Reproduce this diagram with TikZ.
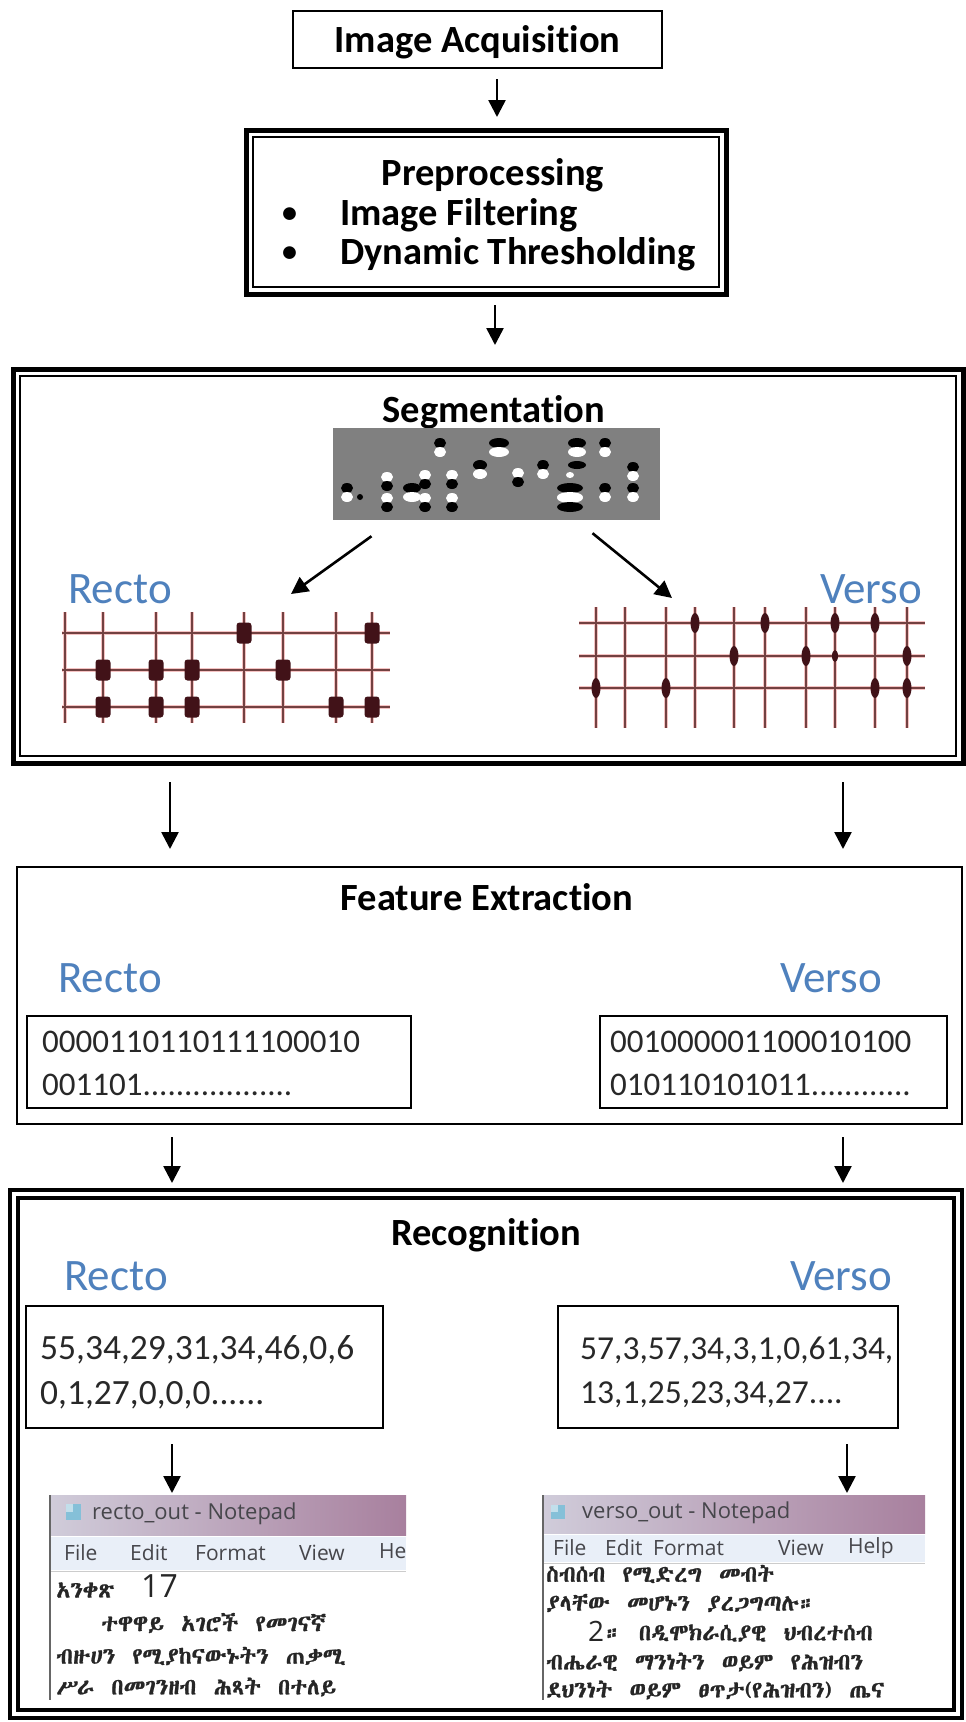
\documentclass[tikz,border=0pt]{standalone}
\usepackage{fontspec}
\setmainfont{Carlito}[Ligatures=NoCommon]
\newfontfamily\uifont{Open Sans}
\IfFontExistsTF{Abyssinica SIL}
  {\newfontfamily\ethfont{Abyssinica SIL}[FakeBold=1]}
  {\IfFontExistsTF{FreeSerif}
     {\newfontfamily\ethfont{FreeSerif}[FakeBold=1]}
     {\newfontfamily\ethfont{DejaVu Sans}}}
\usetikzlibrary{arrows.meta,calc}

\definecolor{rvblue}{HTML}{4F81BD}
\definecolor{seggray}{RGB}{128,128,128}
\definecolor{gridline}{RGB}{115,65,65}
\definecolor{gridhalo}{RGB}{245,195,195}
\definecolor{cellmark}{RGB}{65,18,24}
\definecolor{titleA}{RGB}{208,204,218}
\definecolor{titleB}{RGB}{168,128,158}
\definecolor{menubg}{RGB}{233,239,248}
\definecolor{uitext}{RGB}{70,70,75}
\definecolor{codetext}{RGB}{40,40,40}

\newcommand\wsp{\hspace{0.75em}}
% embossed braille dot: dark rim above, light cap below
\newcommand\segA[3]{%
  \fill[black] (#1,#2) ellipse [x radius=#3, y radius=5];
  \fill[white] (#1,#2+9) ellipse [x radius=#3, y radius=5];}
% sunken braille dot: light cap above, dark rim below
\newcommand\segB[3]{%
  \fill[white] (#1,#2) ellipse [x radius=#3, y radius=5];
  \fill[black] (#1,#2+9) ellipse [x radius=#3, y radius=5];}

\begin{document}
\begin{tikzpicture}[x=1pt,y=-1pt,
  box/.style={draw, rectangle, inner sep=0pt, outer sep=0pt},
  title/.style={font=\fontsize{38.5}{40}\selectfont\bfseries, inner sep=0pt},
  item/.style={font=\fontsize{38.5}{40}\selectfont\bfseries, inner sep=0pt, anchor=west},
  side/.style={font=\fontsize{45}{48}\selectfont, text=rvblue, inner sep=0pt},
  code/.style={font=\fontsize{33}{36}\selectfont, text=codetext, inner sep=0pt, anchor=west},
  nums/.style={font=\fontsize{35.5}{36}\selectfont, text=codetext, inner sep=0pt, anchor=west},
  flow/.style={-{Triangle[length=17pt,width=17pt]}, line width=2.6pt},
  menu/.style={font=\uifont\fontsize{21}{22}\selectfont, text=uitext, inner sep=0pt, anchor=west},
  wintitle/.style={font=\uifont\fontsize{22}{24}\selectfont, text=uitext, inner sep=0pt, anchor=west},
  eth/.style={font=\ethfont\fontsize{23}{24}\selectfont, text=black!85, inner sep=0pt, anchor=west},
  big/.style={font=\uifont\fontsize{32}{32}\selectfont, text=black!85, inner sep=0pt, anchor=west},
  halo/.style={draw=gridhalo, line width=4.5pt},
  rule/.style={draw=gridline, line width=1.8pt}]

\useasboundingbox (0,0) rectangle (966,1722);
\fill[white] (0,0) rectangle (966,1722);

% ---------- Image acquisition ----------
\node[box, line width=2pt, minimum width=369pt, minimum height=57pt] (acq) at (477.5,39.5) {};
\node[title] at (477.5,42) {Image Acquisition};

% ---------- Preprocessing ----------
\node[box, line width=5pt, minimum width=480pt, minimum height=164pt] (pre) at (486,212) {};
\node[box, line width=2.5pt, minimum width=466pt, minimum height=150pt] at (pre) {};
\node[title] at (493,175) {Preprocessing};
\node[item, font=\fontsize{30}{30}\selectfont\bfseries] at (282,215) {\textbullet};
\node[item, font=\fontsize{30}{30}\selectfont\bfseries] at (282,254) {\textbullet};
\node[item] at (340,215) {Image Filtering};
\node[item] at (340,254) {Dynamic Thresholding};

\draw[flow] ($(acq.south)+(19.5,11)$) -- ($(pre.north)+(11,-13)$);

% ---------- Segmentation ----------
\node[box, line width=5pt, minimum width=950pt, minimum height=394pt] (seg) at (488,566) {};
\node[box, line width=2.5pt, minimum width=936pt, minimum height=380pt] at (seg) {};
\node[title] at (494,412) {Segmentation};

\draw[flow] ($(pre.south)+(9,11)$) -- ($(seg.north)+(7,-24)$);

\node[fill=seggray, inner sep=0pt, minimum width=327pt, minimum height=92pt] (segimg) at (496.5,474) {};
\begin{scope}
  \clip (333,428) rectangle (660,520);
  \segA{347}{488}{6} \segA{412}{488}{9} \segA{440}{443}{6} \segA{480}{465}{7}
  \segA{499}{443}{10} \segA{543}{465}{6} \segA{577}{443}{9} \segA{570}{488}{13}
  \segA{605}{443}{6} \segA{605}{488}{6} \segA{633}{467}{6} \segA{633}{488}{6}
  \segB{387}{477}{6} \segB{387}{498}{6} \segB{425}{475}{6} \segB{425}{498}{6}
  \segB{452}{475}{6} \segB{452}{498}{6} \segB{518}{473}{6} \segB{570}{498}{13}
  \fill[black] (360,497) circle [radius=3];
  \fill[black] (577,465) ellipse [x radius=9, y radius=4];
  \fill[white] (570,475) ellipse [x radius=4, y radius=3];
\end{scope}

\coordinate (dL) at (291,594);
\coordinate (dR) at (672,598);
\draw[flow] ($(segimg.south)+(-125,16)$) -- (dL);
\draw[flow] ($(segimg.south)+(96,13)$) -- (dR);

\node[side] at (120,589) {Recto};
\node[side] at (871,589) {Verso};

% recto cell grid
\foreach \y in {633,670,707} \draw[halo] (62,\y) -- (390,\y);
\foreach \x in {65,103,156,192,244,283,336,372} \draw[halo] (\x,612) -- (\x,723);
\foreach \y in {633,670,707} \draw[rule] (62,\y) -- (390,\y);
\foreach \x in {65,103,156,192,244,283,336,372} \draw[rule] (\x,612) -- (\x,723);
\foreach \x/\y in {244/633,372/633,103/670,156/670,192/670,283/670,
                   103/707,156/707,192/707,336/707,372/707}
  \fill[cellmark, rounded corners=3pt] (\x-7.5,\y-10.5) rectangle (\x+7.5,\y+10.5);

% verso cell grid
\foreach \y in {623,656,688} \draw[halo] (579,\y) -- (925,\y);
\foreach \x in {596,625,666,695,734,765,806,835,875,907} \draw[halo] (\x,607) -- (\x,728);
\foreach \y in {623,656,688} \draw[rule] (579,\y) -- (925,\y);
\foreach \x in {596,625,666,695,734,765,806,835,875,907} \draw[rule] (\x,607) -- (\x,728);
\foreach \x/\y in {695/623,765/623,835/623,875/623,734/656,806/656,907/656,
                   596/688,666/688,875/688,907/688}
  \fill[cellmark] (\x,\y) ellipse [x radius=4.5, y radius=10];
\fill[cellmark] (835,656) ellipse [x radius=3, y radius=6];

% ---------- Feature extraction ----------
\node[box, line width=2.5pt, minimum width=945pt, minimum height=257pt] (feat) at (489.5,995.5) {};
\node[title] at (487,897) {Feature Extraction};
\node[side] at (110,978) {Recto};
\node[side] at (831,978) {Verso};
\node[box, line width=2pt, minimum width=384pt, minimum height=92pt] (featL) at (219,1062) {};
\node[box, line width=2pt, minimum width=347pt, minimum height=92pt] (featR) at (773.5,1062) {};
\node[code] at (42,1042) {0000110110111100010};
\node[code] at (42,1085) {001101..................};
\node[code] at (610,1042) {001000001100010100};
\node[code] at (610,1085) {010110101011............};

\draw[flow] ($(seg.south)+(-318,19)$) -- ($(feat.north)+(-319.5,-18)$);
\draw[flow] ($(seg.south)+(355,19)$) -- ($(feat.north)+(353.5,-18)$);

% ---------- Recognition ----------
\node[box, line width=3.5pt, minimum width=952pt, minimum height=528pt] (rec) at (486,1454) {};
\node[box, line width=4pt, minimum width=936pt, minimum height=512pt] at (rec) {};
\node[title] at (486,1235) {Recognition};
\node[side] at (116,1276) {Recto};
\node[side] at (841,1276) {Verso};
\node[box, line width=2pt, minimum width=357pt, minimum height=122pt] (recL) at (204.5,1367) {};
\node[box, line width=2pt, minimum width=340pt, minimum height=122pt] (recR) at (728,1367) {};
\node[nums] at (40,1350) {55,34,29,31,34,46,0,6};
\node[nums] at (40,1395) {0,1,27,0,0,0......};
\node[nums, font=\fontsize{33.5}{36}\selectfont] at (580,1350) {57,3,57,34,3,1,0,61,34,};
\node[nums, font=\fontsize{33.5}{36}\selectfont] at (580,1395) {13,1,25,23,34,27....};

\draw[flow] ($(feat.south)+(-317.5,13)$) -- ($(rec.north)+(-314,-7)$);
\draw[flow] ($(feat.south)+(353.5,13)$) -- ($(rec.north)+(357,-7)$);

% ---------- Notepad output windows ----------
\node[inner sep=0pt, outer sep=0pt, minimum width=356pt, minimum height=205pt] (npL) at (228,1597.5) {};
\node[inner sep=0pt, outer sep=0pt, minimum width=382pt, minimum height=205pt] (npR) at (734,1597.5) {};

\draw[flow] ($(recL.south)+(-32.5,16)$) -- ($(npL.north)+(-56,-2)$);
\draw[flow] ($(recR.south)+(119,16)$) -- ($(npR.north)+(113,-2)$);

% left window
\begin{scope}
  \clip (npL.north west) rectangle (npL.south east);
  \shade[left color=titleA, right color=titleB] (50,1495) rectangle (406,1535);
  \fill[menubg] (50,1537) rectangle (406,1570);
  \draw[black!20, line width=1pt] (50,1571) -- (406,1571);
  \fill[cyan!45!teal!55] (66,1504) rectangle (81,1520);
  \fill[white, opacity=0.5] (66,1504) rectangle (73,1512);
  \node[wintitle] at (92,1514) {recto\_out - Notepad};
  \node[menu] at (64,1553) {File};
  \node[menu] at (130,1553) {Edit};
  \node[menu] at (195,1553) {Format};
  \node[menu] at (299,1553) {View};
  \node[menu] at (379,1553) {Help};
  \node[eth] at (56,1590) {አንቀጽ};
  \node[big] at (141,1586) {17};
  \node[eth] at (101,1623) {ተዋዋይ\wsp አገሮች\wsp የመገናኛ};
  \node[eth] at (56,1656) {ብዙሀን\wsp የሚያከናውኑትን\wsp ጠቃሚ};
  \node[eth] at (56,1687) {ሥራ\wsp በመገንዘብ\wsp ሕጻት\wsp በተለይ};
\end{scope}
\draw[black!60, line width=1.5pt] (npL.north west) -- (npL.south west);

% right window
\begin{scope}
  \clip (npR.north west) rectangle (npR.south east);
  \shade[left color=titleA, right color=titleB] (543,1495) rectangle (925,1533);
  \fill[menubg] (543,1535) rectangle (925,1562);
  \draw[black!20, line width=1pt] (543,1563) -- (925,1563);
  \fill[cyan!45!teal!55] (551,1505) rectangle (565,1519);
  \fill[white, opacity=0.5] (551,1505) rectangle (558,1512);
  \node[wintitle] at (582,1513) {verso\_out - Notepad};
  \node[menu] at (553,1548) {File};
  \node[menu] at (605,1548) {Edit};
  \node[menu] at (653,1548) {Format};
  \node[menu] at (778,1548) {View};
  \node[menu] at (848,1548) {Help};
  \node[eth] at (546,1574) {ስብሰብ\wsp የሚድረግ\wsp መብት};
  \node[eth] at (546,1603) {ያላቸው\wsp መሆኑን\wsp ያረጋግጣሉ።};
  \node[big, font=\uifont\fontsize{28}{28}\selectfont] at (588,1631) {2};
  \node[eth] at (605,1633) {።\wsp በዲሞክራሲያዊ\wsp ህብረተሰብ};
  \node[eth] at (546,1662) {ብሔራዊ\wsp ማንነትን\wsp ወይም\wsp የሕዝብን};
  \node[eth] at (546,1690) {ደህንነት\wsp ወይም\wsp ፀጥታ(የሕዝብን)\wsp ጤና};
\end{scope}
\draw[black!60, line width=1.5pt] (npR.north west) -- (npR.south west);

\end{tikzpicture}
\end{document}
